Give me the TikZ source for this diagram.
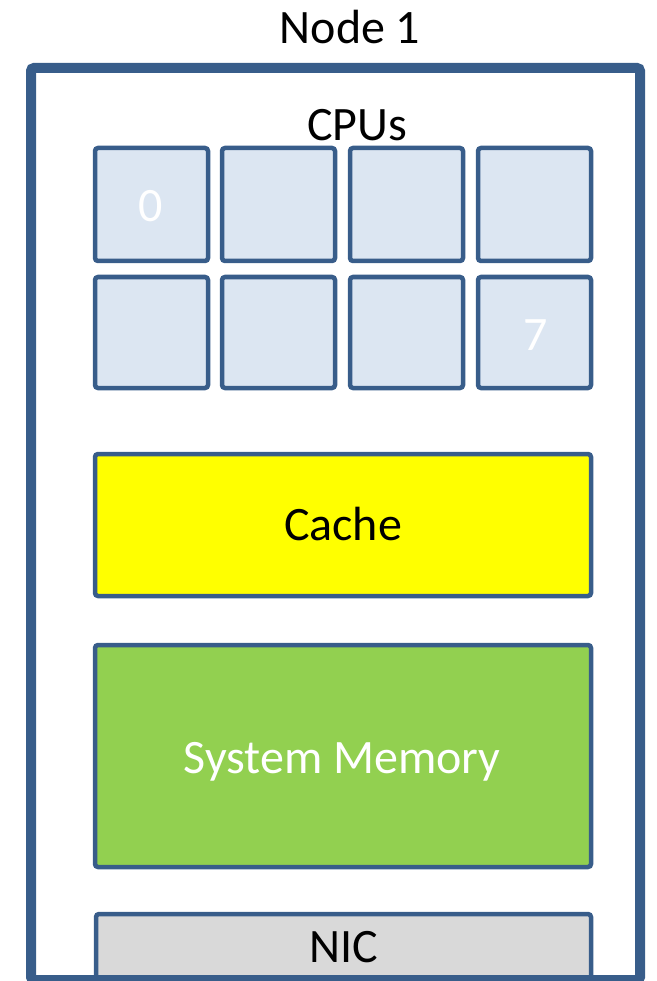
\documentclass[tikz,border=0pt]{standalone}
\usepackage{fontspec}
\setmainfont{Carlito}
\definecolor{bord}{RGB}{56,93,138}
\definecolor{cpufill}{RGB}{220,230,242}
\definecolor{cachefill}{RGB}{255,255,0}
\definecolor{memfill}{RGB}{146,208,80}
\definecolor{nicfill}{RGB}{217,217,217}
\begin{document}
\begin{tikzpicture}[x=1pt,y=-1pt,
  blk/.style={draw=bord,line width=4.5pt,rounded corners=3pt},
  lbl/.style={font=\fontsize{48}{56}\selectfont,anchor=base,inner sep=0pt},
  cpubox/.style={blk,fill=cpufill}]
\useasboundingbox (0,0) rectangle (656,981);
\clip (0,0) rectangle (656,981);
% CPUs
\foreach \i/\x in {0/95,1/222,2/350,3/478}{
  \draw[cpubox] (\x,148) rectangle ++(113,113);
  \draw[cpubox] (\x,277) rectangle ++(113,111);
}
\node[lbl,text=white] (c0) at (151,222) {0};
\node[lbl,text=white] (c7) at (536,350) {7};
% Cache
\draw[blk,fill=cachefill] (95,454) rectangle (591,596);
\node[lbl] (cache) at (343,540) {Cache};
% Memory
\draw[blk,fill=memfill] (95,645) rectangle (591,867);
\node[lbl,text=white] (mem) at (342,773) {System Memory};
% NIC
\draw[blk,fill=nicfill] (96,914) rectangle (591,995);
\node[lbl] (nic) at (344,962) {NIC};
% outer
\draw[draw=bord,line width=10pt,rounded corners=3pt] (31,68) rectangle (640,980);
\node[lbl] (node1) at (350,44) {Node 1};
\node[lbl] (cpus) at (357,141) {CPUs};
\end{tikzpicture}
\end{document}
